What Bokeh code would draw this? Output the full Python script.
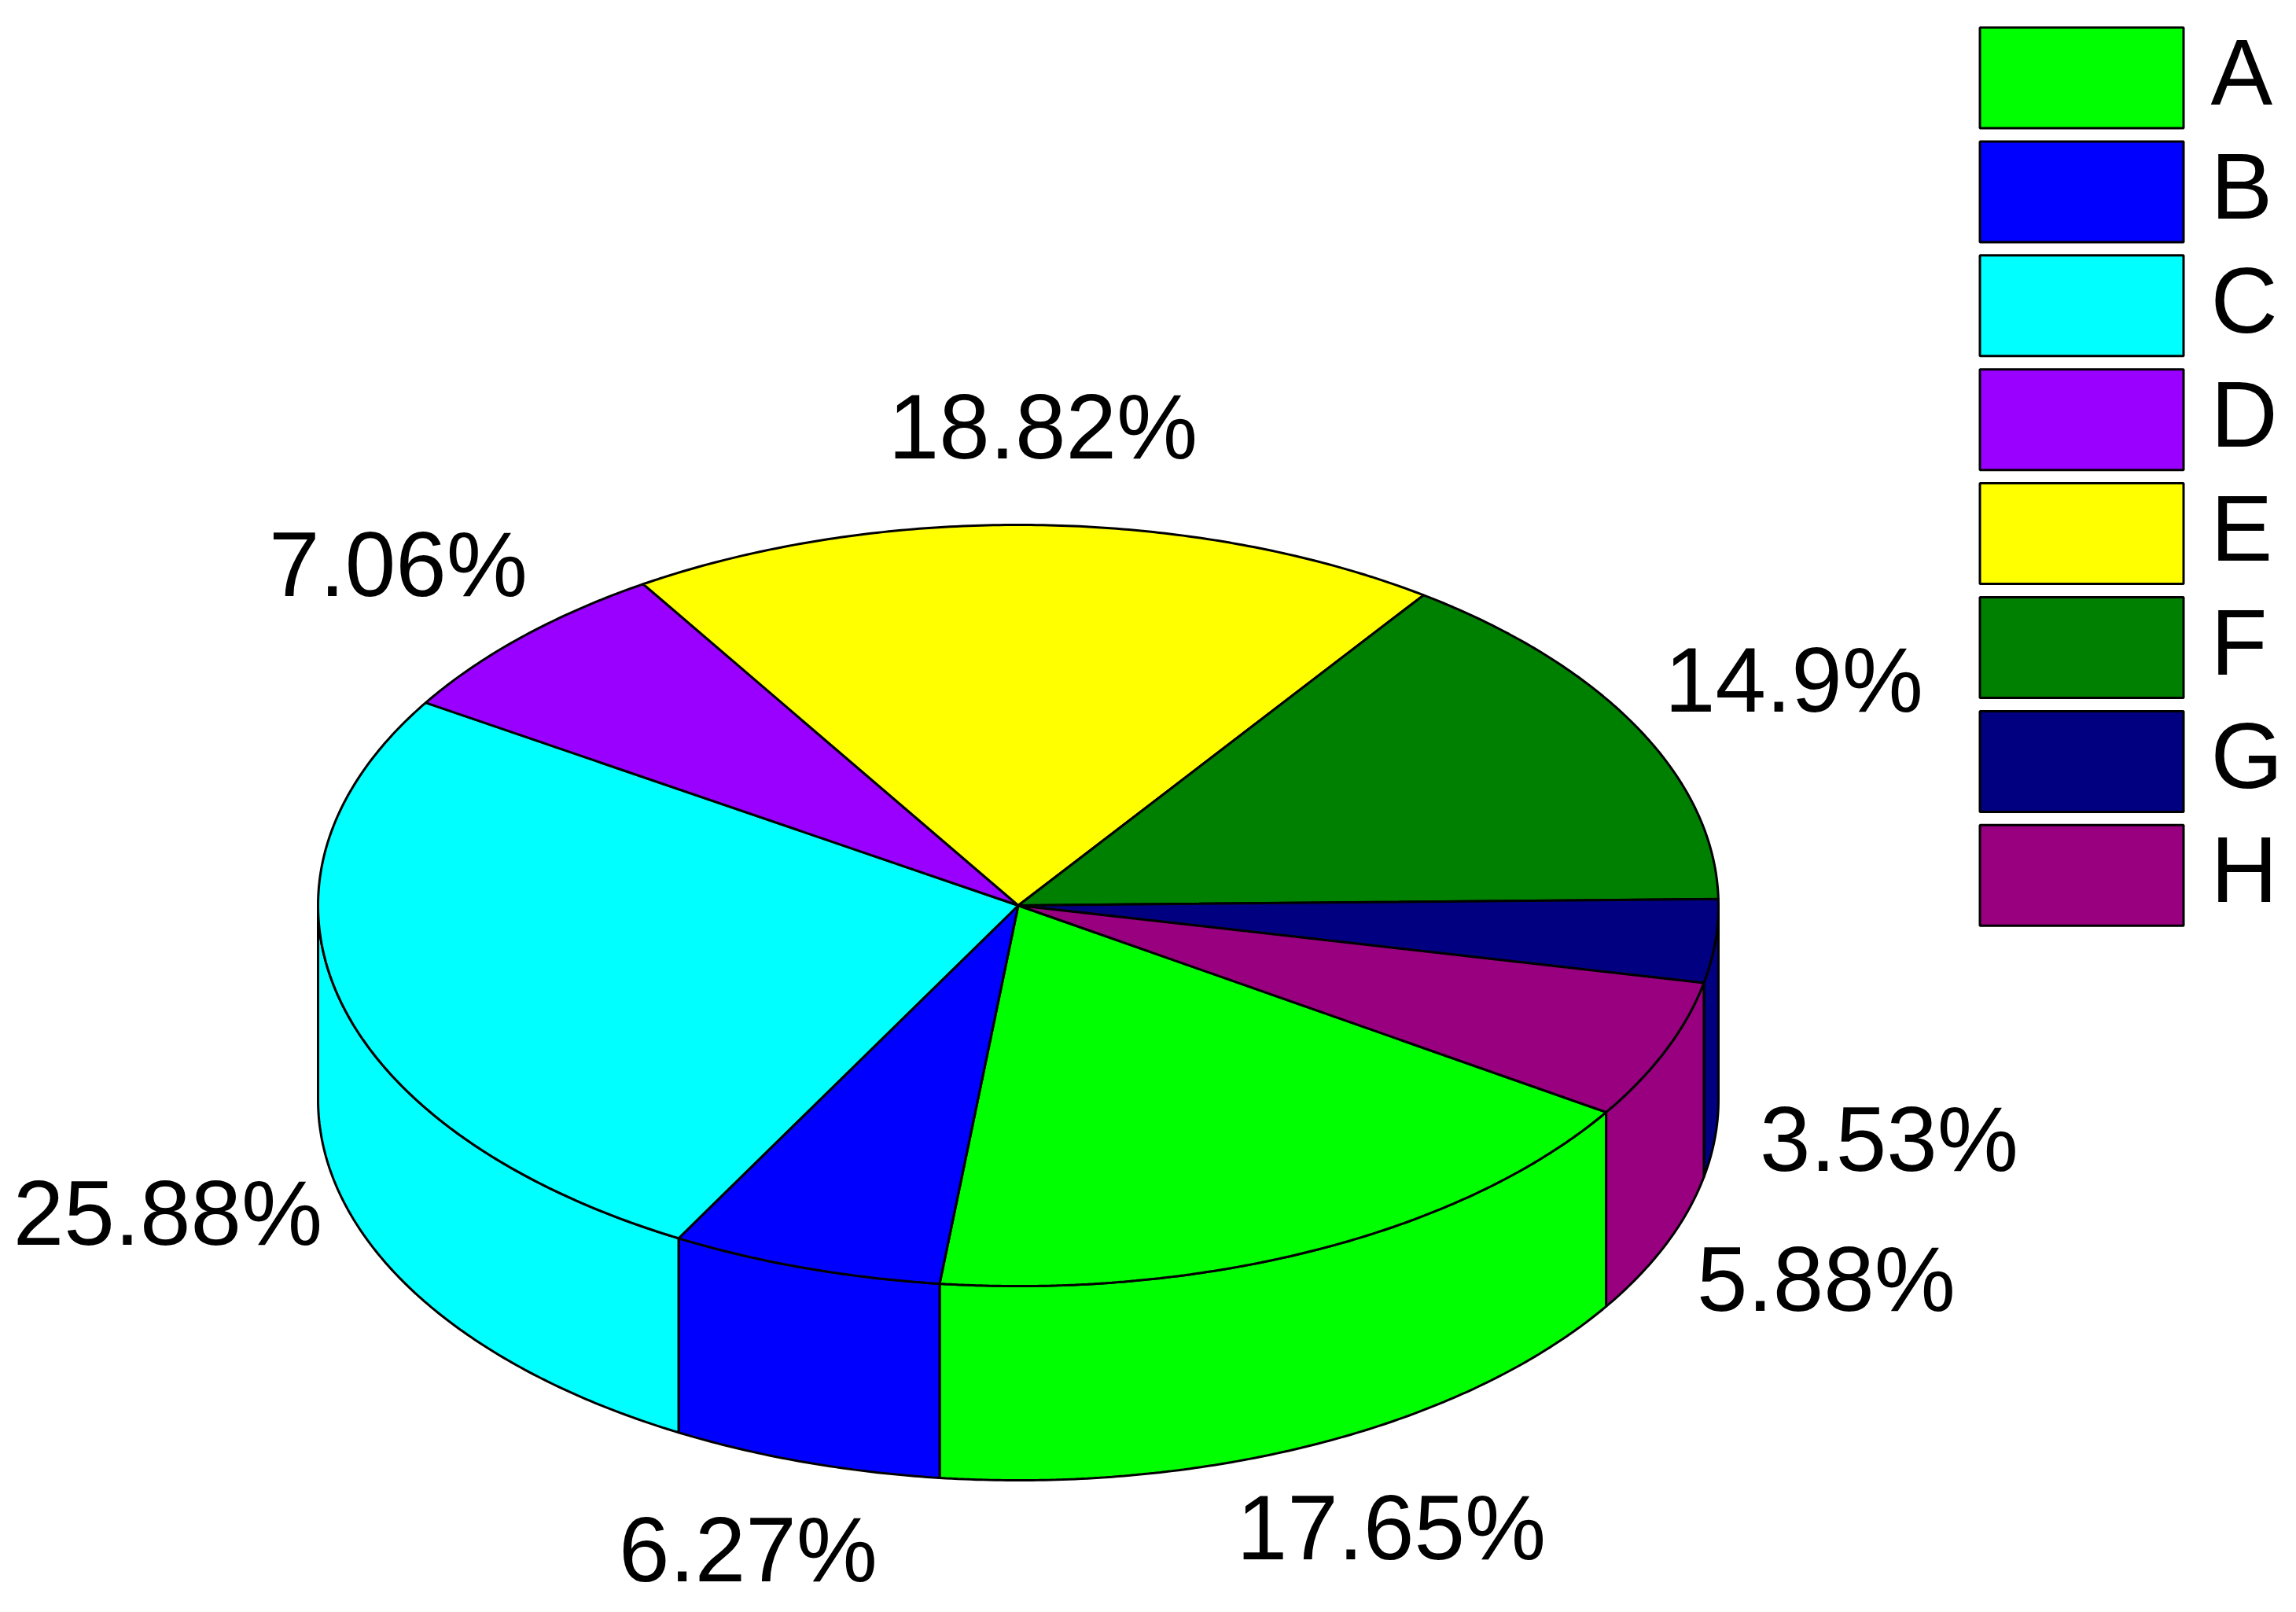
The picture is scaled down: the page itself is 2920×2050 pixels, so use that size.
import numpy as np
from bokeh.plotting import figure
from bokeh.models import Range1d
from bokeh.core.properties import value
from bokeh.embed import file_html
from bokeh.resources import INLINE

categories = ["A", "B", "C", "D", "E", "F", "G", "H"]
percent = [17.65, 6.27, 25.88, 7.06, 18.82, 14.9, 3.53, 5.88]
percent_labels = ["17.65%", "6.27%", "25.88%", "7.06%", "18.82%", "14.9%", "3.53%", "5.88%"]
colors = ["#00ff00", "#0000ff", "#00ffff", "#9900ff", "#ffff00", "#008000", "#000080", "#990080"]

# layout (page pixels)
CX, CY, RX, RY, DEPTH = 1294.5, 1151.0, 890.5, 484.0, 247.0
START_DEG = 32.9
LABEL_X = [1769, 951, 213, 506, 1326, 2281, 2402, 2322]
LABEL_Y = [1942, 1970, 1542, 717, 542, 864, 1448, 1626]
FONT = value("Liberation Sans")
LW = 3

p = figure(width=2904, height=2042, output_backend="svg", toolbar_location=None,
           x_range=Range1d(0, 2904), y_range=Range1d(2042, 0), min_border=0)
p.axis.visible = False
p.grid.visible = False
p.outline_line_color = None


def arc(a0, a1, dy=0.0):
    n = max(int(abs(a1 - a0) * 2), 2)
    t = np.radians(np.linspace(a0, a1, n))
    return CX + RX * np.cos(t), CY + dy + RY * np.sin(t)


total = sum(percent)
edges = START_DEG + np.concatenate([[0], np.cumsum(percent)]) * 360.0 / total

# front wall of the disc: only the part of each slice facing the viewer
wall_ranges = [(0, 180), (360, 540)]
for i, col in enumerate(colors):
    for lo, hi in wall_ranges:
        a0, a1 = max(edges[i], lo), min(edges[i + 1], hi)
        if a1 <= a0:
            continue
        xt, yt = arc(a0, a1)
        xb, yb = arc(a1, a0, DEPTH)
        p.patch(np.r_[xt, xb], np.r_[yt, yb], fill_color=col, line_color="black", line_width=LW)

# top face
for i, col in enumerate(colors):
    xt, yt = arc(edges[i], edges[i + 1])
    p.patch(np.r_[CX, xt], np.r_[CY, yt], fill_color=col, line_color="black", line_width=LW)

p.text(LABEL_X, LABEL_Y, text=percent_labels, text_font=FONT, text_font_size="116px",
       text_color="black", text_align="center", text_baseline="middle")

# legend: boxes and letters
idx = np.arange(len(categories))
p.rect(x=2647, y=98.5 + 144.9 * idx, width=259, height=128, fill_color=colors,
       line_color="black", line_width=LW)
p.text(x=[2811] * len(categories), y=91.5 + 144.9 * idx, text=categories, text_font=FONT,
       text_font_size="118px", text_color="black", text_align="left", text_baseline="middle")

open("out.html", "w").write(file_html(p, INLINE))
